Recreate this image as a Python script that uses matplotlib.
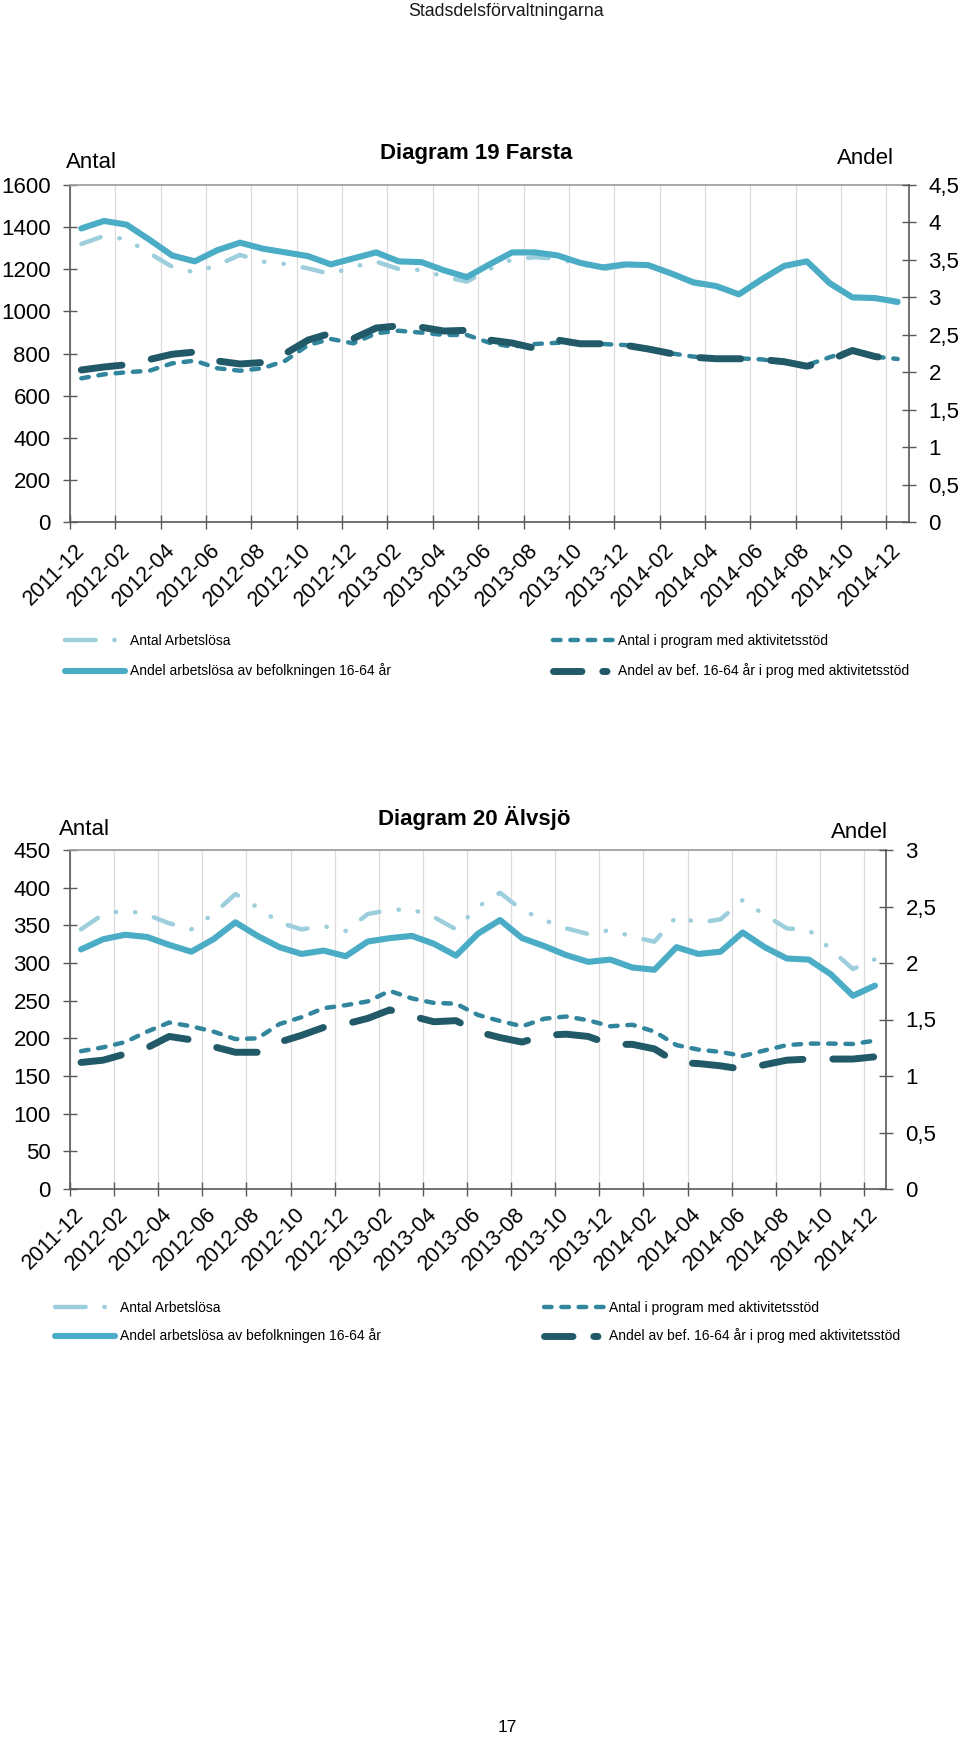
import matplotlib
matplotlib.use('Agg')
import matplotlib.pyplot as plt
import numpy as np
from matplotlib.legend_handler import HandlerLine2D

plt.rcParams['font.family'] = ['Liberation Sans', 'DejaVu Sans']

# ---------------- data ----------------
tick_labels = ['2011-12', '2012-02', '2012-04', '2012-06', '2012-08', '2012-10',
               '2012-12', '2013-02', '2013-04', '2013-06', '2013-08', '2013-10',
               '2013-12', '2014-02', '2014-04', '2014-06', '2014-08', '2014-10',
               '2014-12']
n_months = 37  # 2011-12 .. 2014-12, monthly

legend_labels = ['Antal Arbetslösa',
                 'Andel arbetslösa av befolkningen 16-64 år',
                 'Antal i program med aktivitetsstöd',
                 'Andel av bef. 16-64 år i prog med aktivitetsstöd']

# Diagram 19 Farsta
farsta_antal_arbetslosa = [1320, 1358, 1342, 1276, 1212, 1185, 1220, 1268, 1236, 1225,
                           1204, 1177, 1212, 1236, 1201, 1196, 1165, 1141, 1200, 1247,
                           1257, 1250, 1225, 1200, 1218, 1215, 1176, 1133, 1115, 1076,
                           1147, 1211, 1232, 1129, 1062, 1058, 1040]
farsta_andel_arbetslosa = [3.92, 4.02, 3.97, 3.77, 3.56, 3.48, 3.63, 3.73, 3.65, 3.60,
                           3.55, 3.44, 3.52, 3.60, 3.48, 3.47, 3.36, 3.27, 3.44, 3.60,
                           3.60, 3.56, 3.46, 3.40, 3.44, 3.43, 3.32, 3.20, 3.15, 3.04,
                           3.24, 3.42, 3.48, 3.19, 3.00, 2.99, 2.94]
farsta_antal_program = [682, 701, 711, 718, 753, 766, 730, 718, 730, 766,
                        840, 869, 848, 896, 908, 899, 888, 888, 851, 832,
                        845, 851, 848, 845, 840, 820, 801, 785, 777, 777,
                        772, 756, 745, 782, 817, 785, 774]
farsta_andel_program = [2.03, 2.07, 2.10, 2.17, 2.24, 2.27, 2.15, 2.11, 2.13, 2.25,
                        2.43, 2.52, 2.45, 2.59, 2.62, 2.60, 2.55, 2.56, 2.43, 2.39,
                        2.32, 2.43, 2.38, 2.38, 2.36, 2.31, 2.25, 2.20, 2.18, 2.18,
                        2.17, 2.14, 2.08, 2.16, 2.29, 2.21, 2.17]

# Diagram 20 Älvsjö
alvsjo_antal_arbetslosa = [344.7, 364.6, 370, 364, 352.7, 344.7, 365, 391.6, 374, 353.5,
                           344.7, 349, 342.5, 365, 370.4, 371.3, 361, 344.7, 374.7, 393.3,
                           370.4, 357, 346, 338.5, 343.8, 335, 328.3, 361.5, 353.5, 358,
                           383.6, 363.7, 346, 343.8, 318, 292, 305]
alvsjo_andel_arbetslosa = [2.12, 2.21, 2.25, 2.23, 2.16, 2.10, 2.21, 2.36, 2.24, 2.14,
                           2.08, 2.11, 2.06, 2.19, 2.22, 2.24, 2.17, 2.065, 2.26, 2.38,
                           2.22, 2.15, 2.07, 2.01, 2.03, 1.96, 1.94, 2.14, 2.08, 2.10,
                           2.27, 2.14, 2.04, 2.03, 1.90, 1.71, 1.80]
alvsjo_antal_program = [183, 188, 195, 209, 221, 216, 209, 199, 200, 219,
                        228, 240, 244, 249, 263, 253, 247, 246, 231, 223,
                        216, 226, 229, 224, 216, 218, 209, 191, 185, 182,
                        176.5, 184, 191, 193, 193, 192.5, 197]
alvsjo_andel_program = [1.12, 1.14, 1.195, 1.25, 1.35, 1.32, 1.26, 1.21, 1.21, 1.30,
                        1.36, 1.43, 1.46, 1.51, 1.585, 1.53, 1.48, 1.49, 1.39, 1.34,
                        1.30, 1.36, 1.37, 1.35, 1.28, 1.28, 1.24, 1.12, 1.11, 1.09,
                        1.06, 1.10, 1.14, 1.15, 1.15, 1.15, 1.17]

# ---------------- style ----------------
W, H = 960, 1739
C_LIGHT = '#9CCEDC'
C_SOLID = '#4BACC6'
C_TEAL = '#31859C'
C_DARK = '#215968'
C_AXIS = '#595959'
C_TOP = '#A0A0A0'
C_GRID = '#DCDCDC'

fig = plt.figure(figsize=(W / 100, H / 100), dpi=100)


def fx(x):
    return x / W


def fy(y):
    return 1 - y / H


def fmt_comma(v):
    s = ('%g' % v)
    return s.replace('.', ',')


def legend_style(pattern):
    def update(legend_handle, orig_handle):
        legend_handle.update_from(orig_handle)
        legend_handle.set_linestyle((0, pattern))
    return HandlerLine2D(update_func=update)


def make_chart(box, left_max, left_step, right_max, right_step,
               light, solid, teal, dark, title, title_xy, antal_xy, andel_xy,
               leg_left_xy, leg_right_xy, leg_spacing, xpad):
    l, t, r, b = box
    ax = fig.add_axes([fx(l), fy(b), (r - l) / W, (b - t) / H])
    x = np.arange(n_months)

    h_light, = ax.plot(x, light, color=C_LIGHT, lw=3.2,
                       ls=(0, (4.6, 4.3, 0.1, 4.3, 0.1, 4.3)),
                       dash_capstyle='round', dash_joinstyle='round',
                       label=legend_labels[0])
    h_teal, = ax.plot(x, teal, color=C_TEAL, lw=3.2, ls=(0, (1.7, 2.2)),
                      dash_capstyle='round', dash_joinstyle='round',
                      label=legend_labels[2])
    ax2 = ax.twinx()
    h_solid, = ax2.plot(x, solid, color=C_SOLID, lw=4.4,
                        solid_capstyle='round', solid_joinstyle='round',
                        label=legend_labels[1])
    h_dark, = ax2.plot(x, dark, color=C_DARK, lw=5.0, ls=(0, (5.9, 4.3)),
                       dash_capstyle='round', dash_joinstyle='round',
                       label=legend_labels[3])

    ax.set_xlim(-0.5, n_months - 0.5)
    ax.set_ylim(0, left_max)
    ax2.set_ylim(0, right_max)

    major = np.arange(-0.5, n_months - 1, 2)
    ax.set_xticks(major)
    ax.set_xticklabels([''] * len(major))
    ax.set_xticks(np.arange(0, n_months, 2), minor=True)
    ax.set_xticklabels(tick_labels, minor=True, rotation=45, ha='right',
                       va='center', rotation_mode='anchor', fontsize=15.5)
    ax.tick_params(axis='x', which='minor', length=0, pad=xpad)
    ax.tick_params(axis='x', which='major', direction='inout', length=10,
                   width=1, color=C_AXIS)
    ax.grid(axis='x', which='major', color=C_GRID, lw=0.9)
    ax.set_axisbelow(True)

    lt = np.arange(0, left_max + 1e-9, left_step)
    ax.set_yticks(lt)
    ax.set_yticklabels(['%d' % v for v in lt], fontsize=16)
    ax.tick_params(axis='y', direction='inout', length=10, width=1,
                   color=C_AXIS, pad=9)
    rt = np.arange(0, right_max + 1e-9, right_step)
    ax2.set_yticks(rt)
    ax2.set_yticklabels([fmt_comma(v) for v in rt], fontsize=16)
    ax2.tick_params(axis='y', direction='inout', length=10, width=1,
                    color=C_AXIS, pad=9)

    for sp in ['left', 'bottom']:
        ax.spines[sp].set_color(C_AXIS)
        ax.spines[sp].set_linewidth(1.2)
    ax.spines['top'].set_color(C_TOP)
    ax.spines['top'].set_linewidth(1.3)
    ax.spines['right'].set_visible(False)
    for sp in ['left', 'bottom', 'top']:
        ax2.spines[sp].set_visible(False)
    ax2.spines['right'].set_color(C_AXIS)
    ax2.spines['right'].set_linewidth(1.2)

    fig.text(fx(title_xy[0]), fy(title_xy[1]), title, ha='center', va='center',
             fontsize=16, fontweight='bold')
    fig.text(fx(antal_xy[0]), fy(antal_xy[1]), 'Antal', ha='left', va='center',
             fontsize=16)
    fig.text(fx(andel_xy[0]), fy(andel_xy[1]), 'Andel', ha='left', va='center',
             fontsize=16)

    common = dict(loc='center left', frameon=False, fontsize=10,
                  handlelength=4.3, handletextpad=0.35, labelspacing=leg_spacing,
                  borderpad=0, borderaxespad=0)
    hmap = {h_light: legend_style((6.9, 4.2, 0.1, 20)),
            h_dark: legend_style((4.1, 3.0, 0.6, 20))}
    fig.legend(handles=[h_light, h_solid], handler_map=hmap,
               bbox_to_anchor=(fx(leg_left_xy[0]), fy(leg_left_xy[1])), **common)
    fig.legend(handles=[h_teal, h_dark], handler_map=hmap,
               bbox_to_anchor=(fx(leg_right_xy[0]), fy(leg_right_xy[1])), **common)
    return ax, ax2


make_chart((70, 185, 909, 522), 1600, 200, 4.5, 0.5,
           farsta_antal_arbetslosa, farsta_andel_arbetslosa,
           farsta_antal_program, farsta_andel_program,
           'Diagram 19 Farsta', (476, 153), (66, 163), (837, 158),
           (65, 656), (553, 656), 1.15, 18)

make_chart((70, 850, 886, 1189), 450, 50, 3, 0.5,
           alvsjo_antal_arbetslosa, alvsjo_andel_arbetslosa,
           alvsjo_antal_program, alvsjo_andel_program,
           'Diagram 20 Älvsjö', (474, 818), (59, 829), (831, 832),
           (55, 1322), (544, 1322), 1.0, 16)

fig.text(fx(506), fy(12), 'Stadsdelsförvaltningarna', ha='center', va='center',
         fontsize=12.8, color='#1a1a1a')
fig.text(fx(507), fy(1728), '17', ha='center', va='center', fontsize=12.5)

fig.savefig('out.png', dpi=100)
